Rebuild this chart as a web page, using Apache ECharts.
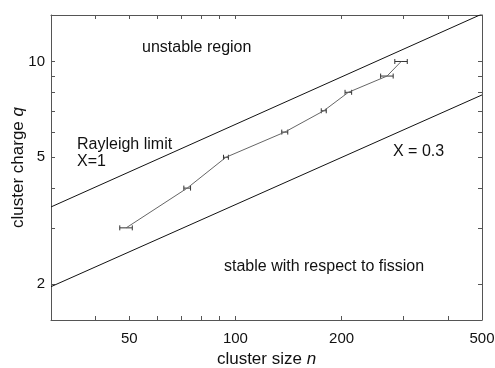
<!DOCTYPE html>
<html>
<head>
<meta charset="utf-8">
<script src="https://cdn.jsdelivr.net/npm/echarts@6/dist/echarts.min.js"></script>
<style>
  html, body { margin: 0; padding: 0; background: #fff; }
  #chart { width: 495px; height: 368px; }
</style>
</head>
<body>
<div id="chart"></div>
<script>
// Measured cluster sizes n, charges q and horizontal uncertainty in n
const sizes = [49, 73, 94, 138, 178, 209, 269, 295];
const charges = [3, 4, 5, 6, 7, 8, 9, 10];
const sizeErrors = [2, 1.6, 1.5, 2.7, 2.9, 4.5, 11, 12];

// Stability limits (straight lines on log-log axes), given by end points [n, q]
const rayleighLine = [[30, 3.49], [500, 14.1]];
const fissionLine = [[30, 1.96], [500, 7.85]];

// Axis ticks
const xTickLabels = [50, 100, 200, 500];
const xMinorTicks = [40, 60, 70, 80, 90, 300, 400];
const yTickLabels = [2, 5, 10];
const yMinorTicks = [3, 4, 6, 7, 8, 9];

const FONT = '"Liberation Sans", Arial, Helvetica, sans-serif';
const AXIS_COLOR = '#555';

const xTicksAll = xTickLabels.concat(xMinorTicks).sort((a, b) => a - b);
const yTicksAll = yTickLabels.concat(yMinorTicks).sort((a, b) => a - b);

function xAxisDef(position, showLabels) {
  return {
    type: 'log', logBase: 10, min: 30, max: 500, position: position,
    axisLine: { show: true, lineStyle: { color: AXIS_COLOR, width: 1 } },
    axisTick: { show: true, inside: true, length: 4, customValues: xTicksAll,
                lineStyle: { color: AXIS_COLOR } },
    axisLabel: { show: showLabels, customValues: xTickLabels, margin: 11,
                 color: '#111', fontSize: 15, fontFamily: FONT },
    splitLine: { show: false }, minorTick: { show: false }
  };
}
function yAxisDef(position, showLabels) {
  return {
    type: 'log', logBase: 10, min: 1.54, max: 14, position: position,
    axisLine: { show: true, lineStyle: { color: AXIS_COLOR, width: 1 } },
    axisTick: { show: true, inside: true, length: 4, customValues: yTicksAll,
                lineStyle: { color: AXIS_COLOR } },
    axisLabel: { show: showLabels, customValues: yTickLabels, margin: 6,
                 color: '#111', fontSize: 15, fontFamily: FONT },
    splitLine: { show: false }, minorTick: { show: false }
  };
}

const nameRich = {
  t: { fontSize: 17, fontFamily: FONT, color: '#111' },
  i: { fontSize: 17, fontFamily: FONT, color: '#111', fontStyle: 'italic' }
};

const xMain = xAxisDef('bottom', true);
xMain.name = '{t|cluster size }{i|n}';
xMain.nameLocation = 'middle';
xMain.nameGap = 31;
xMain.nameTextStyle = { rich: nameRich };

const yMain = yAxisDef('left', true);
yMain.name = '{t|cluster charge }{i|q}';
yMain.nameLocation = 'middle';
yMain.nameGap = 24;
yMain.nameRotate = 90;
yMain.nameMoveOverlap = false;
yMain.nameTextStyle = { rich: nameRich };

const points = sizes.map((n, i) => [n, charges[i]]);
const errorBars = sizes.map((n, i) => [n, charges[i], n - sizeErrors[i], n + sizeErrors[i]]);

const textStyle = { fontSize: 16, fontFamily: FONT, fill: '#111' };

const option = {
  animation: false,
  backgroundColor: '#fff',
  grid: { left: 51, right: 13, top: 15, bottom: 48, containLabel: false, outerBoundsMode: 'none' },
  xAxis: [xMain, xAxisDef('top', false)],
  yAxis: [yMain, yAxisDef('right', false)],
  series: [
    {
      type: 'line', data: rayleighLine, symbol: 'none', clip: true,
      lineStyle: { color: '#111', width: 1 }
    },
    {
      type: 'line', data: fissionLine, symbol: 'none', clip: true,
      lineStyle: { color: '#111', width: 1 }
    },
    {
      type: 'line', data: points, symbol: 'none',
      lineStyle: { color: '#666', width: 1 }
    },
    {
      type: 'custom',
      data: errorBars,
      encode: { x: [0, 2, 3], y: 1 },
      renderItem: function (params, api) {
        const q = api.value(1);
        const lo = api.coord([api.value(2), q]);
        const hi = api.coord([api.value(3), q]);
        const cap = 2.5;
        const style = { stroke: '#333', lineWidth: 1 };
        return {
          type: 'group',
          children: [
            { type: 'line', shape: { x1: lo[0], y1: lo[1], x2: hi[0], y2: hi[1] }, style: style },
            { type: 'line', shape: { x1: lo[0], y1: lo[1] - cap, x2: lo[0], y2: lo[1] + cap }, style: style },
            { type: 'line', shape: { x1: hi[0], y1: hi[1] - cap, x2: hi[0], y2: hi[1] + cap }, style: style }
          ]
        };
      }
    }
  ],
  graphic: [
    { type: 'text', left: 142, top: 40, style: Object.assign({ text: 'unstable region' }, textStyle) },
    { type: 'text', left: 77, top: 136, style: Object.assign({ text: 'Rayleigh limit\nX=1', lineHeight: 17 }, textStyle) },
    { type: 'text', left: 393, top: 144, style: Object.assign({ text: 'X = 0.3' }, textStyle) },
    { type: 'text', left: 224, top: 259, style: Object.assign({ text: 'stable with respect to fission' }, textStyle) }
  ]
};

const chart = echarts.init(document.getElementById('chart'), null, { renderer: 'canvas' });
chart.setOption(option);
</script>
</body>
</html>
